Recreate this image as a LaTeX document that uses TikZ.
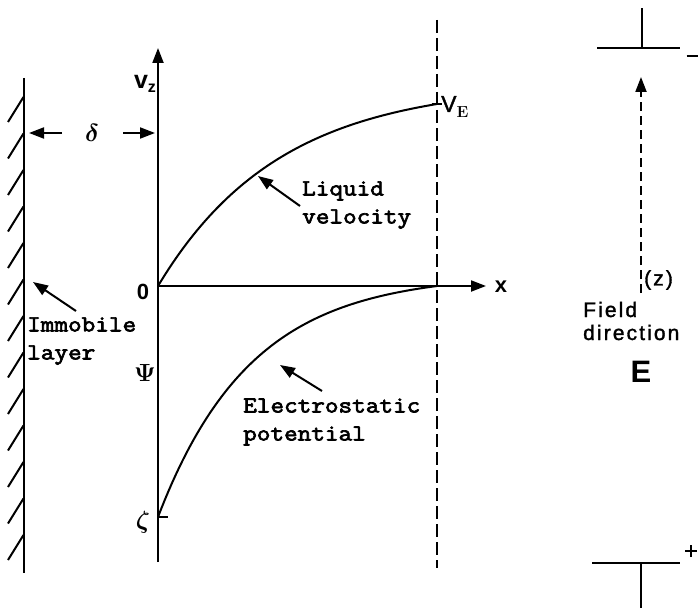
\documentclass[tikz,border=0pt]{standalone}
\usepackage{fontspec}
\usetikzlibrary{arrows.meta}
\newfontfamily\lblfont{Latin Modern Mono}[FakeStretch=1.15,FakeBold=3]
\newfontfamily\sanslbl{Liberation Sans}[LetterSpace=10,FakeBold=1.5]
\newfontfamily\sansbold{Liberation Sans Bold}
\tikzset{
  x=1bp, y=-1bp,
  thick line/.style={line width=2bp},
  tip/.style={-{Triangle[length=15bp,width=11bp]}},
  monotext/.style={font=\lblfont\fontsize{23bp}{28bp}\selectfont, align=left, inner sep=0pt, anchor=west},
  symtext/.style={font=\fontsize{24bp}{26bp}\selectfont\boldmath, inner sep=0pt},
  sanstext/.style={font=\sanslbl\fontsize{21bp}{23bp}\selectfont, inner sep=0pt},
  axlbl/.style={font=\sansbold\fontsize{22bp}{24bp}\selectfont, inner sep=0pt},
  ldash/.style={dash pattern=on 13bp off 5bp},
  sdash/.style={dash pattern=on 9bp off 5bp},
}
\begin{document}
\begin{tikzpicture}
\path[use as bounding box] (0,0) rectangle (699,610);

% wall
\coordinate (wtop) at (24,78);
\coordinate (wbot) at (24,573);
\draw[thick line] (wtop) -- (wbot);
\foreach \i in {0,...,12}{
  \draw[thick line] (8,{97+36.5*\i+25}) -- (23.5,{97+36.5*\i});
}

% axes
\coordinate (O) at (158,286);
\coordinate (ytop) at (158,48);
\coordinate (ybot) at (158,562);
\coordinate (xend) at (486,286);
\draw[thick line] (ybot) -- (O);
\draw[thick line, tip] (O) -- (ytop);
\draw[thick line, tip] (O) -- (xend);

% dashed vertical line
\coordinate (dtop) at (437,20);
\coordinate (dbot) at (437,568);
\draw[thick line, ldash] (dtop) -- (dbot);

% curves
\draw[thick line] plot[domain=0:1, samples=80, variable=\t]
  ({158+279*\t}, {286-182*(1-exp(-2.3*\t))/(1-exp(-2.3))});
\draw[thick line] plot[domain=0:1, samples=80, variable=\t]
  ({158+279*\t}, {286+231*(exp(-3*\t)-exp(-3))/(1-exp(-3))});

% ticks
\coordinate (vetick) at (437,104);
\draw[thick line] ([xshift=-5bp]vetick) -- ([xshift=5bp]vetick);
\coordinate (zetatick) at (158,517);
\draw[thick line] (zetatick) -- ++(10,0);

% axis labels
\node[axlbl, font=\sansbold\fontsize{25bp}{27bp}\selectfont] (vz) at (145,84) {v\raisebox{-0.3ex}{\fontsize{16bp}{17bp}\selectfont z}};
\node[axlbl] (zero) at (143,292) {0};
\node[symtext] (psi) at (145,373) {$\Psi$};
\node[symtext] (zeta) at (143,522) {$\zeta$};
\node[axlbl] (xl) at (501,287) {x};
\node[font=\sanslbl\fontsize{23bp}{25bp}\selectfont, inner sep=0pt, anchor=west] (ve) at (441,107) {V\raisebox{-0.5ex}{\rmfamily\bfseries\fontsize{16bp}{17bp}\selectfont E}};

% delta
\node[symtext] (delta) at (92,133) {$\delta$};
\coordinate (dl1) at (62,133);
\coordinate (dl2) at (29,133);
\coordinate (dr1) at (123,133);
\coordinate (dr2) at (155,133);
\draw[thick line, tip] (dl1) -- (dl2);
\draw[thick line, tip] (dr1) -- (dr2);

% labels with arrows
\node[monotext] (imm) at (27,341) {Immobile\\layer};
\coordinate (immtail) at (76,311);
\coordinate (immtip) at (33,282);
\draw[thick line, tip] (immtail) -- (immtip);

\node[monotext] (liq) at (302,205) {Liquid\\velocity};
\coordinate (liqtail) at (300,206);
\coordinate (liqtip) at (258,176);
\draw[thick line, tip] (liqtail) -- (liqtip);

\node[monotext] (elec) at (243,422) {Electrostatic\\potential};
\coordinate (eltail) at (322,391);
\coordinate (eltip) at (280,365);
\draw[thick line, tip] (eltail) -- (eltip);

% right side: plates and field
\coordinate (tpl) at (597,48);
\coordinate (tpr) at (680,48);
\coordinate (tstem) at (642,8);
\draw[thick line] (tpl) -- (tpr);
\draw[thick line] (642,48) -- (tstem);
\node[inner sep=0pt] (minus) at (692,56) {\rule{11bp}{2bp}};

\coordinate (bpl) at (592,563);
\coordinate (bpr) at (680,563);
\coordinate (bstem) at (641,608);
\draw[thick line] (bpl) -- (bpr);
\draw[thick line] (641,563) -- (bstem);
\coordinate (plusc) at (691,551);
\draw[thick line] ([xshift=-6bp]plusc) -- ([xshift=6bp]plusc);
\draw[thick line] ([yshift=-6bp]plusc) -- ([yshift=6bp]plusc);

\coordinate (ftail) at (641,293);
\coordinate (ftip) at (641,77);
\draw[line width=2bp, sdash, -{Triangle[length=15bp,width=11bp]}] (ftail) -- (ftip);
\node[sanstext, anchor=west] (zl) at (644,280) {(z)};
\node[sanstext, align=left, anchor=west] (fd) at (583,321) {Field\\direction};
\node[font=\sansbold\fontsize{31bp}{33bp}\selectfont, inner sep=0pt] (E) at (641,372) {E};
\end{tikzpicture}
\end{document}
